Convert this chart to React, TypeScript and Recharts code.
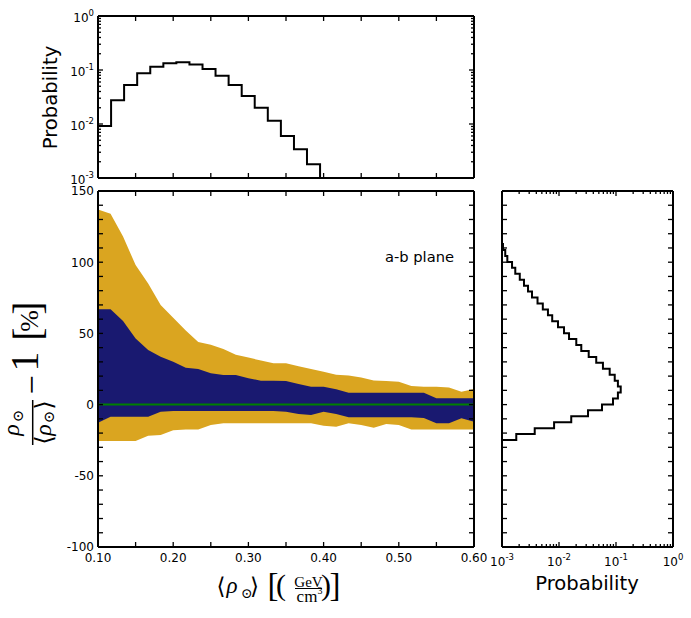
import React from "react";
import {
  ComposedChart,
  Area,
  Scatter,
  XAxis,
  YAxis,
  ReferenceLine,
} from "recharts";

// main panel: grid in <rho_sun> (GeV/cm^3) and the two bands in %
const rhoGrid = [
  0.1, 0.1167, 0.1333, 0.15, 0.1667, 0.1833, 0.2, 0.2167, 0.2333, 0.25, 0.2667,
  0.2833, 0.3, 0.3167, 0.3333, 0.35, 0.3667, 0.3833, 0.4, 0.4167, 0.4333, 0.45,
  0.4667, 0.4833, 0.5, 0.5167, 0.5333, 0.55, 0.5667, 0.5833, 0.6,
];
const outerHi = [
  137, 134, 118, 98, 85, 70, 61, 52, 44, 42, 39, 35, 33, 31, 29, 29, 27, 25, 23,
  21, 20.5, 19, 17, 16.5, 16, 13, 12.5, 12.5, 12, 9, 11,
];
const outerLo = [
  -25.6, -25.6, -25.6, -25.6, -21.8, -21.3, -18.1, -17.4, -17.4, -14.3, -13.1,
  -13.1, -13.1, -13.1, -13.1, -13.1, -13.1, -13.1, -14.8, -15.5, -13.1, -14.3,
  -16.2, -13.6, -14.3, -17.4, -17.4, -17.4, -17.4, -17.4, -17.4,
];
const innerHi = [
  66.9, 66.9, 58.7, 46.5, 38.3, 33.6, 30.1, 25.9, 25, 22, 20.8, 20.8, 18.5,
  16.8, 16.8, 16.6, 14.5, 12.6, 12.6, 10.7, 8.4, 8.4, 8.4, 8.4, 8.4, 8.4, 8.4,
  4.4, 4.4, 4.4, 4.4,
];
const innerLo = [
  -12.7, -8.5, -8.5, -8.5, -8.5, -5, -4.5, -4.5, -4.5, -4.5, -4.5, -4.5, -4.5,
  -4.5, -4.5, -5, -6.6, -7.3, -5, -6.6, -8.9, -8.9, -8.9, -8.9, -8.9, -8.9,
  -9.4, -13.1, -13.1, -9.6, -12,
];

// top histogram (bin edges in <rho>, probability per bin)
const topEdges = [
  0.1, 0.1174, 0.1347, 0.1521, 0.1695, 0.1869, 0.2042, 0.2216, 0.239, 0.2563,
  0.2737, 0.2911, 0.3084, 0.3258, 0.3432, 0.3606, 0.3779, 0.3953,
];
const topProb = [
  0.0092, 0.0275, 0.053, 0.087, 0.115, 0.133, 0.139, 0.127, 0.104, 0.0785,
  0.053, 0.033, 0.02, 0.0115, 0.006, 0.0034, 0.0018,
];

// right histogram (bin edges in %, probability per bin)
const rightBelow = -29.07;
const rightEdges = [
  -24.9, -20.73, -16.56, -12.39, -8.22, -4.05, 0.12, 4.29, 8.46, 12.63, 16.8,
  20.97, 25.14, 29.31, 33.48, 37.65, 41.82, 45.99, 50.16, 54.33, 58.5, 62.67,
  66.84, 71.01, 75.18, 79.35, 83.52, 87.69, 91.86, 96.03, 100.2, 104.37, 108.54,
  112.71,
];
const rightProb = [
  0.00178, 0.00375, 0.0082, 0.0164, 0.0323, 0.0568, 0.0886, 0.108, 0.121,
  0.108, 0.095, 0.0775, 0.059, 0.045, 0.0332, 0.0246, 0.0201, 0.015, 0.01225,
  0.0096, 0.0076, 0.0064, 0.0052, 0.0042, 0.00336, 0.00286, 0.00243, 0.00205,
  0.00171, 0.0015, 0.00124, 0.00114, 0.00104,
];
const EMPTY = 1e-4; // below the 1e-3 floor, drawn off-axis

// ticks
const rhoTicks = [0.1, 0.15, 0.2, 0.25, 0.3, 0.35, 0.4, 0.45, 0.5, 0.55, 0.6];
const pctTicks = [
  -100, -90, -80, -70, -60, -50, -40, -30, -20, -10, 0, 10, 20, 30, 40, 50, 60,
  70, 80, 90, 100, 110, 120, 130, 140, 150,
];
const logTicks = [
  0.001, 0.002, 0.003, 0.004, 0.005, 0.006, 0.007, 0.008, 0.009, 0.01, 0.02,
  0.03, 0.04, 0.05, 0.06, 0.07, 0.08, 0.09, 0.1, 0.2, 0.3, 0.4, 0.5, 0.6, 0.7,
  0.8, 0.9, 1,
];

const mainData = rhoGrid.map((x, i) => ({
  x,
  outer: [outerLo[i], outerHi[i]],
  inner: [innerLo[i], innerHi[i]],
}));

const topPts: { x: number; p: number }[] = [];
topProb.forEach((p, i) => {
  topPts.push({ x: topEdges[i], p });
  topPts.push({ x: topEdges[i + 1], p });
});
topPts.push({ x: topEdges[topEdges.length - 1], p: EMPTY });

const rightPts: { p: number; e: number }[] = [
  { p: EMPTY, e: rightBelow },
  { p: EMPTY, e: rightEdges[0] },
];
rightProb.forEach((p, i) => {
  rightPts.push({ p, e: rightEdges[i] });
  rightPts.push({ p, e: rightEdges[i + 1] });
});
rightPts.push({ p: EMPTY, e: rightEdges[rightEdges.length - 1] });

const W = 691;
const H = 618;
const GAP = 4;
const sans = "DejaVu Sans, sans-serif";
const serif = "Liberation Serif, DejaVu Serif, serif";
const tickFont = { fontFamily: sans, fontSize: 12, fill: "#000" };

const isDecade = (v: number) =>
  Math.abs(Math.log10(v) - Math.round(Math.log10(v))) < 1e-6;
const logLen = (v: number) => (isDecade(v) ? 5 : 3);
const flat = () => 5;

const logLabel = (v: number) =>
  isDecade(v) ? (
    <>
      10
      <tspan dy={-6} fontSize={8.5}>
        {String(Math.round(Math.log10(v)))}
      </tspan>
    </>
  ) : null;
const pctLabel = (v: number) => (v % 50 === 0 ? String(v) : null);
const rhoLabel = (v: number) =>
  Math.abs(v * 10 - Math.round(v * 10)) < 1e-6 ? v.toFixed(2) : null;

type Side = "left" | "right" | "top" | "bottom";

function makeTick(
  side: Side,
  len: (v: number) => number,
  label?: (v: number) => React.ReactNode,
  labelDy = 15
) {
  return (props: any) => {
    const { x, y, payload } = props;
    const v = payload.value;
    const l = len(v);
    const txt = label ? label(v) : null;
    const st = { stroke: "#000", strokeWidth: 1.3 };
    if (side === "left") {
      const e = x + GAP;
      return (
        <g>
          <line x1={e} x2={e + l} y1={y} y2={y} {...st} />
          {txt != null && (
            <text x={x} y={y} dy={labelDy} textAnchor="end" {...tickFont}>
              {txt}
            </text>
          )}
        </g>
      );
    }
    if (side === "right") {
      const e = x - GAP;
      return <line x1={e} x2={e - l} y1={y} y2={y} {...st} />;
    }
    if (side === "top") {
      const e = y + GAP;
      return <line x1={x} x2={x} y1={e} y2={e + l} {...st} />;
    }
    const e = y - GAP;
    return (
      <g>
        <line x1={x} x2={x} y1={e} y2={e - l} {...st} />
        {txt != null && (
          <text x={x} y={e + labelDy} textAnchor="middle" {...tickFont}>
            {txt}
          </text>
        )}
      </g>
    );
  };
}

const axisBase = {
  tickSize: 0,
  tickMargin: GAP,
  tickLine: false,
  interval: 0 as const,
  allowDataOverflow: true,
  axisLine: { stroke: "#000", strokeWidth: 2 },
};

const noDot = () => <g />;

function MainPanel() {
  return (
    <ComposedChart
      width={W}
      height={H}
      data={mainData}
      margin={{ top: 190, right: W - 475, bottom: H - 547 - 30, left: 98 - 60 }}
    >
      <XAxis
        {...axisBase}
        type="number"
        dataKey="x"
        domain={[0.1, 0.6]}
        ticks={rhoTicks}
        height={30}
        tick={makeTick("bottom", flat, rhoLabel, 15)}
      />
      <XAxis
        {...axisBase}
        xAxisId="t"
        orientation="top"
        type="number"
        dataKey="x"
        domain={[0.1, 0.6]}
        ticks={rhoTicks}
        height={1}
        tick={makeTick("top", flat)}
      />
      <YAxis
        {...axisBase}
        type="number"
        domain={[-100, 150]}
        ticks={pctTicks}
        width={60}
        tick={makeTick("left", flat, pctLabel, 4.3)}
      />
      <YAxis
        {...axisBase}
        yAxisId="r"
        orientation="right"
        type="number"
        dataKey="x"
        domain={[-100, 150]}
        ticks={pctTicks}
        width={1}
        tick={makeTick("right", flat)}
      />
      <Area
        type="linear"
        dataKey="outer"
        fill="#DAA520"
        fillOpacity={1}
        stroke="none"
        isAnimationActive={false}
      />
      <Area
        type="linear"
        dataKey="inner"
        fill="#191970"
        fillOpacity={1}
        stroke="none"
        isAnimationActive={false}
      />
      <ReferenceLine y={0} stroke="#008000" strokeWidth={2} />
      <Scatter
        data={mainData}
        xAxisId="t"
        yAxisId="r"
        shape={noDot}
        isAnimationActive={false}
      />
    </ComposedChart>
  );
}

function TopPanel() {
  return (
    <ComposedChart
      width={W}
      height={H}
      margin={{ top: 15, right: W - 475, bottom: H - 178 - 30, left: 98 - 60 }}
    >
      <XAxis
        {...axisBase}
        type="number"
        dataKey="x"
        domain={[0.1, 0.6]}
        ticks={rhoTicks}
        height={30}
        tick={makeTick("bottom", flat)}
      />
      <XAxis
        {...axisBase}
        xAxisId="t"
        orientation="top"
        type="number"
        dataKey="x"
        domain={[0.1, 0.6]}
        ticks={rhoTicks}
        height={1}
        tick={makeTick("top", flat)}
      />
      <YAxis
        {...axisBase}
        type="number"
        dataKey="p"
        scale="log"
        domain={[0.001, 1]}
        ticks={logTicks}
        width={60}
        tick={makeTick("left", logLen, logLabel, 6)}
      />
      <YAxis
        {...axisBase}
        yAxisId="r"
        orientation="right"
        type="number"
        dataKey="p"
        scale="log"
        domain={[0.001, 1]}
        ticks={logTicks}
        width={1}
        tick={makeTick("right", logLen)}
      />
      <Scatter
        data={topPts}
        line={{ stroke: "#000", strokeWidth: 2 }}
        lineType="joint"
        shape={noDot}
        fill="#000"
        isAnimationActive={false}
      />
      <Scatter
        data={topPts}
        xAxisId="t"
        yAxisId="r"
        shape={noDot}
        isAnimationActive={false}
      />
    </ComposedChart>
  );
}

function RightPanel() {
  return (
    <ComposedChart
      width={W}
      height={H}
      margin={{ top: 190, right: W - 674, bottom: H - 547 - 30, left: 501 }}
    >
      <XAxis
        {...axisBase}
        type="number"
        dataKey="p"
        scale="log"
        domain={[0.001, 1]}
        ticks={logTicks}
        height={30}
        tick={makeTick("bottom", logLen, logLabel, 19)}
      />
      <XAxis
        {...axisBase}
        xAxisId="t"
        orientation="top"
        type="number"
        dataKey="p"
        scale="log"
        domain={[0.001, 1]}
        ticks={logTicks}
        height={1}
        tick={makeTick("top", logLen)}
      />
      <YAxis
        {...axisBase}
        type="number"
        dataKey="e"
        domain={[-100, 150]}
        ticks={pctTicks}
        width={1}
        tick={makeTick("left", flat)}
      />
      <YAxis
        {...axisBase}
        yAxisId="r"
        orientation="right"
        type="number"
        dataKey="e"
        domain={[-100, 150]}
        ticks={pctTicks}
        width={1}
        tick={makeTick("right", flat)}
      />
      <Scatter
        data={rightPts}
        line={{ stroke: "#000", strokeWidth: 2 }}
        lineType="joint"
        shape={noDot}
        fill="#000"
        isAnimationActive={false}
      />
      <Scatter
        data={rightPts}
        xAxisId="t"
        yAxisId="r"
        shape={noDot}
        isAnimationActive={false}
      />
    </ComposedChart>
  );
}

function Labels() {
  return (
    <svg
      width={W}
      height={H}
      style={{ position: "absolute", left: 0, top: 0, pointerEvents: "none" }}
    >
      <text
        transform="translate(57,97.5) rotate(-90)"
        textAnchor="middle"
        fontFamily={sans}
        fontSize={19.6}
      >
        Probability
      </text>
      <text x={587} y={590} textAnchor="middle" fontFamily={sans} fontSize={19.6}>
        Probability
      </text>
      <text x={385} y={262} fontFamily={sans} fontSize={14.7}>
        a-b plane
      </text>

      {/* y label: rho/<rho> - 1 [%] */}
      <g transform="translate(32.7,370) rotate(-90)" fontFamily={serif}>
        <text x={-60} y={-14} fontSize={24} fontStyle="italic" textAnchor="middle">
          ρ
        </text>
        <text x={-46} y={-10} fontSize={15} textAnchor="middle">
          ⊙
        </text>
        <line x1={-75} x2={-30} y1={0} y2={0} stroke="#000" strokeWidth={1.5} />
        <text x={-70} y={19} fontSize={24} textAnchor="middle">
          ⟨
        </text>
        <text x={-60} y={18} fontSize={24} fontStyle="italic" textAnchor="middle">
          ρ
        </text>
        <text x={-47} y={21} fontSize={15} textAnchor="middle">
          ⊙
        </text>
        <text x={-35} y={19} fontSize={24} textAnchor="middle">
          ⟩
        </text>
        <text x={-15} y={10} fontSize={34} textAnchor="middle">
          −
        </text>
        <text x={8.5} y={5} fontSize={40} textAnchor="middle">
          1
        </text>
        <text x={36} y={8} fontSize={40} textAnchor="middle">
          [
        </text>
        <text x={49} y={5} fontSize={26} textAnchor="middle">
          %
        </text>
        <text x={62} y={8} fontSize={40} textAnchor="middle">
          ]
        </text>
      </g>

      {/* x label: <rho> [(GeV/cm^3)] */}
      <g fontFamily={serif}>
        <text x={221} y={594} fontSize={23} textAnchor="middle">
          ⟨
        </text>
        <text x={232} y={593} fontSize={23} fontStyle="italic" textAnchor="middle">
          ρ
        </text>
        <text x={246.5} y={598} fontSize={14} textAnchor="middle">
          ⊙
        </text>
        <text x={254.5} y={594} fontSize={23} textAnchor="middle">
          ⟩
        </text>
        <text x={273} y={596} fontSize={33} textAnchor="middle">
          [
        </text>
        <text x={281} y={595} fontSize={30} textAnchor="middle">
          (
        </text>
        <text x={308.5} y={586.5} fontSize={15} textAnchor="middle">
          GeV
        </text>
        <line x1={295} x2={322} y1={588.5} y2={588.5} stroke="#000" strokeWidth={1} />
        <text x={307} y={601.5} fontSize={17} textAnchor="middle">
          cm
        </text>
        <text x={317.5} y={594} fontSize={10}>
          3
        </text>
        <text x={326} y={595} fontSize={30} textAnchor="middle">
          )
        </text>
        <text x={335} y={596} fontSize={33} textAnchor="middle">
          ]
        </text>
      </g>
    </svg>
  );
}

export default function App() {
  const layer = { position: "absolute" as const, left: 0, top: 0 };
  return (
    <div
      style={{
        position: "absolute",
        left: 0,
        top: 0,
        width: W,
        height: H,
        background: "#fff",
      }}
    >
      <div style={layer}>
        <MainPanel />
      </div>
      <div style={layer}>
        <TopPanel />
      </div>
      <div style={layer}>
        <RightPanel />
      </div>
      <Labels />
    </div>
  );
}
